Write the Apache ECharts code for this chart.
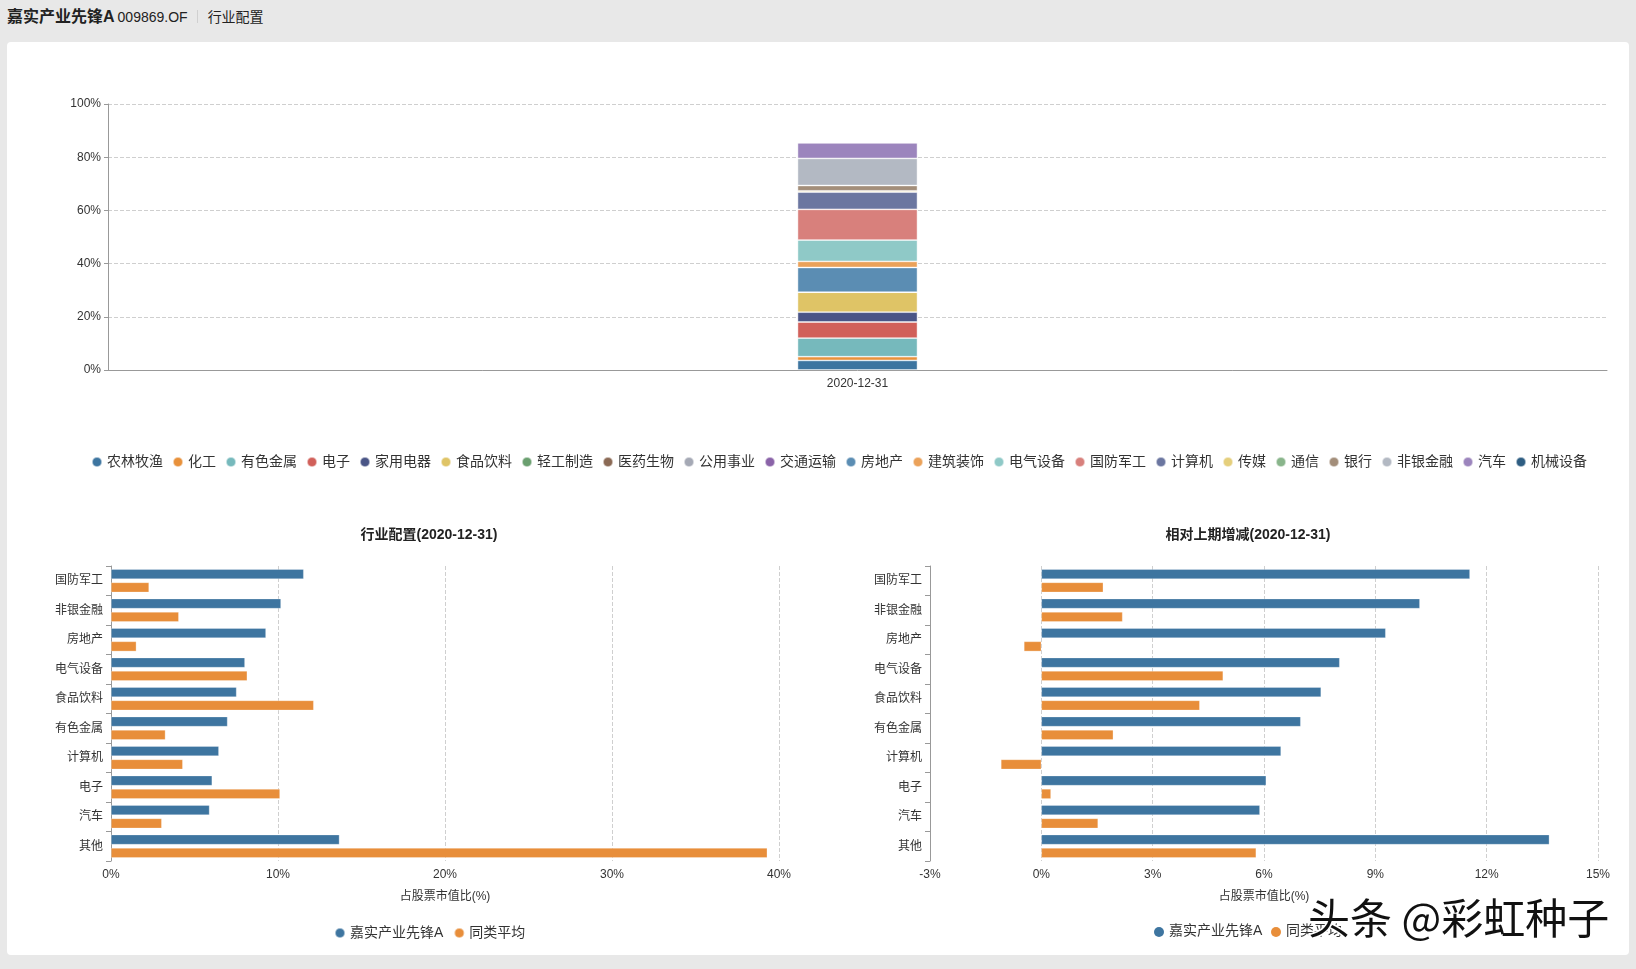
<!DOCTYPE html>
<html>
<head>
<meta charset="utf-8">
<script src="https://cdn.jsdelivr.net/npm/echarts@6/dist/echarts.min.js"></script>
<style>
  html, body { margin:0; padding:0; width:1636px; height:969px; background:#e8e8e8; overflow:hidden;
    font-family: "Liberation Sans", "Noto Sans CJK SC", sans-serif; }
  #header { position:absolute; left:7px; top:6px; height:22px; line-height:22px; color:#222; white-space:nowrap; }
  #header .name { font-size:16px; font-weight:bold; }
  #header .code { font-size:14px; margin-left:3px; }
  #header .sep { display:inline-block; width:1px; height:13px; background:#d0d0d0; margin:0 10px 0 9px; vertical-align:-1px; }
  #header .page { font-size:14px; }
  #panel { position:absolute; left:7px; top:42px; width:1622px; height:913px; background:#fff; border-radius:4px; }
  #chart { position:absolute; left:0; top:0; width:1636px; height:969px; }
</style>
</head>
<body>
<div id="header"><span class="name">嘉实产业先锋A</span><span class="code">009869.OF</span><span class="sep"></span><span class="page">行业配置</span></div>
<div id="panel"></div>
<div id="chart"></div>
<script>
// ---- data ----
const reportDate = '2020-12-31';
const industries = ['农林牧渔','化工','有色金属','电子','家用电器','食品饮料','轻工制造','医药生物','公用事业','交通运输','房地产','建筑装饰','电气设备','国防军工','计算机','传媒','通信','银行','非银金融','汽车','机械设备'];
const industryColors = ['#3d75a0','#e8913b','#76b9bc','#d1605a','#4a5586','#dfc466','#6a9f6f','#8b6a55','#a5a9b5','#8a63a8','#5b8db3','#eba25a','#8fc9c7','#d8807c','#6b76a0','#e5cf7c','#89b58b','#a38e7a','#b3b9c3','#9c85bd','#2e5d82'];
const allocation = [3.6,1.4,6.98,6.06,3.7,7.52,0,0,0,0,9.28,2.3,8.02,11.54,6.46,0.5,0,2.0,10.18,5.9,0];
const yTicks = [0,20,40,60,80,100];

const topCats = ['国防军工','非银金融','房地产','电气设备','食品饮料','有色金属','计算机','电子','汽车','其他'];
const fundWeight = [11.54,10.18,9.28,8.02,7.52,6.98,6.46,6.06,5.9,13.68];
const peerWeight = [2.28,4.06,1.52,8.16,12.14,3.26,4.3,10.12,3.04,39.3];
const fundChange = [11.55,10.2,9.28,8.04,7.54,6.99,6.46,6.06,5.89,13.69];
const peerChange = [1.67,2.19,-0.47,4.9,4.27,1.94,-1.09,0.26,1.53,5.79];
const seriesNames = ['嘉实产业先锋A','同类平均'];
const seriesColors = ['#3e75a0','#e88e3a'];

// ---- chart ----
const FONT = '"Liberation Sans", "Noto Sans CJK SC", sans-serif';
const chart = echarts.init(document.getElementById('chart'), null, {renderer:'canvas'});

const axisLabel = {color:'#333', fontSize:12, fontFamily:FONT};
const splitDash = {show:true, lineStyle:{type:'dashed', color:'#cfcfcf', width:1}};

function catAxis(gridIndex){
  return {
    type:'category', gridIndex, data: topCats, inverse:true,
    axisLine:{show:true, onZero:false, lineStyle:{color:'#999'}},
    axisTick:{show:true, length:5, lineStyle:{color:'#999'}},
    axisLabel:{color:'#333', fontSize:12, fontFamily:FONT, margin:8},
    splitLine:{show:false}
  };
}
function valAxis(gridIndex, min, max, interval){
  return {
    type:'value', gridIndex, min, max, interval,
    axisLine:{show:false}, axisTick:{show:false},
    axisLabel:Object.assign({}, axisLabel, {formatter:'{value}%', margin:8}),
    splitLine:splitDash,
    name:'占股票市值比(%)', nameLocation:'middle', nameGap:30,
    nameTextStyle:{color:'#333', fontSize:12, fontFamily:FONT}
  };
}

const stackSeries = industries.map((name, i) => ({
  name, type:'bar', stack:'total', xAxisIndex:0, yAxisIndex:0,
  barWidth:120,
  itemStyle:{color:industryColors[i], borderColor:'rgba(255,255,255,0.55)', borderWidth:0.8},
  data:[allocation[i]]
}));

function hbar(name, color, data, xi){
  return {
    name, type:'bar', xAxisIndex:xi, yAxisIndex:xi,
    barWidth:10, barGap:'33%',
    itemStyle:{color, borderColor:'rgba(255,255,255,0.5)', borderWidth:0.6},
    data
  };
}

const option = {
  animation:false,
  textStyle:{fontFamily:FONT},
  color: industryColors,
  grid:[
    {left:108, top:104, right:29, height:266},
    {left:111, top:566, width:668, height:295},
    {left:930, top:566, width:668, height:295}
  ],
  xAxis:[
    {type:'category', gridIndex:0, data:[reportDate],
      axisLine:{show:true, lineStyle:{color:'#999'}}, axisTick:{show:false},
      axisLabel:{color:'#333', fontSize:12, fontFamily:FONT, margin:8}},
    valAxis(1, 0, 40, 10),
    valAxis(2, -3, 15, 3)
  ],
  yAxis:[
    {type:'value', gridIndex:0, min:yTicks[0], max:yTicks[yTicks.length-1], interval:20,
      axisLine:{show:true, lineStyle:{color:'#999'}},
      axisTick:{show:true, length:4, lineStyle:{color:'#999'}},
      axisLabel:Object.assign({}, axisLabel, {formatter:'{value}%', margin:7}),
      splitLine:splitDash},
    catAxis(1),
    catAxis(2)
  ],
  legend:[
    {data: industries, left:86, top:450, itemWidth:10, itemHeight:10, itemGap:9, icon:'circle',
      textStyle:{color:'#333', fontSize:14, fontFamily:FONT}},
    {data: seriesNames.map((n)=>({name:n})), left:329, top:921, itemWidth:10, itemHeight:10, itemGap:10, icon:'circle',
      textStyle:{color:'#333', fontSize:14, fontFamily:FONT}}
  ],
  graphic:[
    {type:'text', x:429, y:528, style:{text:'行业配置(' + reportDate + ')', fill:'#222', font:'bold 14px ' + FONT, textAlign:'center'}},
    {type:'text', x:1248, y:528, style:{text:'相对上期增减(' + reportDate + ')', fill:'#222', font:'bold 14px ' + FONT, textAlign:'center'}},
    // legend for right chart
    {type:'circle', x:1159, y:932, shape:{r:5}, style:{fill:seriesColors[0]}},
    {type:'text', x:1169, y:924, style:{text:seriesNames[0], font:'14px ' + FONT, fill:'#333'}},
    {type:'circle', x:1276, y:932, shape:{r:5}, style:{fill:seriesColors[1]}},
    {type:'text', x:1286, y:924, style:{text:seriesNames[1], font:'14px ' + FONT, fill:'#333'}},
    // platform watermark
    {type:'text', x:1308, y:897, z:100, style:{text:'头条 @彩虹种子', font:'42px "Noto Sans CJK SC", sans-serif', fill:'#111', stroke:'#fff', lineWidth:3}}
  ],
  series: stackSeries.concat([
    hbar(seriesNames[0], seriesColors[0], fundWeight, 1),
    hbar(seriesNames[1], seriesColors[1], peerWeight, 1),
    hbar(seriesNames[0], seriesColors[0], fundChange, 2),
    hbar(seriesNames[1], seriesColors[1], peerChange, 2)
  ])
};
chart.setOption(option);
</script>
</body>
</html>
